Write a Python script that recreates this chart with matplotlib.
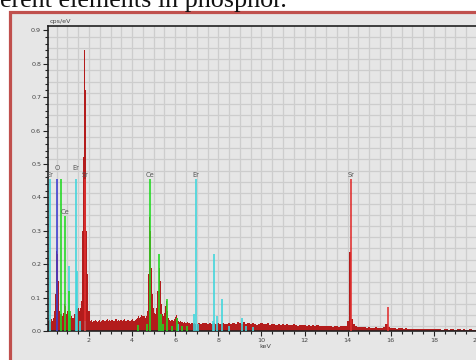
import numpy as np
import matplotlib.pyplot as plt
from matplotlib.patches import Rectangle
from matplotlib.ticker import MultipleLocator

# EDS spectrum, fine channels (0.05 keV) from 0.10 to 6.95 keV
low_kev = np.linspace(0.10, 6.95, 138)
low_cps = [
    0.030, 0.033, 0.028, 0.035, 0.030, 0.040, 0.060, 0.110, 0.240, 0.230,  # 0.10
    0.150, 0.060, 0.050, 0.045, 0.055, 0.080, 0.075, 0.050, 0.060, 0.045,  # 0.60
    0.055, 0.040, 0.045, 0.040, 0.038, 0.050, 0.070, 0.065, 0.070, 0.060,  # 1.10
    0.068, 0.090, 0.300, 0.520, 0.840, 0.720, 0.300, 0.170, 0.060, 0.030,  # 1.60
    0.032, 0.028, 0.031, 0.029, 0.032, 0.030, 0.027, 0.031, 0.033, 0.028,  # 2.10
    0.030, 0.034, 0.031, 0.029, 0.032, 0.036, 0.030, 0.033, 0.029, 0.032,  # 2.60
    0.034, 0.031, 0.029, 0.035, 0.031, 0.033, 0.030, 0.034, 0.032, 0.029,  # 3.10
    0.033, 0.035, 0.031, 0.030, 0.034, 0.032, 0.029, 0.033, 0.035, 0.031,  # 3.60
    0.030, 0.034, 0.036, 0.038, 0.045, 0.040, 0.042, 0.048, 0.044, 0.046,  # 4.10
    0.040, 0.045, 0.060, 0.170, 0.340, 0.300, 0.190, 0.110, 0.070, 0.055,  # 4.60
    0.050, 0.070, 0.120, 0.190, 0.150, 0.080, 0.050, 0.045, 0.055, 0.075,  # 5.10
    0.090, 0.060, 0.040, 0.032, 0.030, 0.033, 0.030, 0.035, 0.042, 0.048,  # 5.60
    0.038, 0.030, 0.027, 0.029, 0.026, 0.028, 0.025, 0.027, 0.024, 0.026,  # 6.10
    0.023, 0.025, 0.022, 0.024, 0.023, 0.021, 0.024, 0.022,                # 6.60
]

# coarse channels (0.1 keV) from 7.0 to 20.1 keV
high_kev = np.linspace(7.0, 20.1, 132)
high_cps = [
    0.022, 0.025, 0.021, 0.024, 0.023, 0.020, 0.024, 0.022, 0.025, 0.021,  # 7
    0.023, 0.020, 0.024, 0.022, 0.021, 0.025, 0.020, 0.023, 0.022, 0.026,  # 8
    0.024, 0.021, 0.026, 0.022, 0.025, 0.020, 0.023, 0.021, 0.019, 0.022,  # 9
    0.024, 0.021, 0.020, 0.023, 0.019, 0.022, 0.020, 0.018, 0.021, 0.019,  # 10
    0.020, 0.018, 0.021, 0.019, 0.017, 0.020, 0.018, 0.016, 0.019, 0.017,  # 11
    0.018, 0.016, 0.017, 0.015, 0.018, 0.016, 0.017, 0.015, 0.016, 0.014,  # 12
    0.015, 0.016, 0.014, 0.013, 0.015, 0.014, 0.013, 0.015, 0.014, 0.016,  # 13
    0.030, 0.237, 0.035, 0.020, 0.014, 0.012, 0.013, 0.011, 0.012, 0.010,  # 14
    0.011, 0.010, 0.009, 0.011, 0.010, 0.009, 0.010, 0.012, 0.020, 0.012,  # 15
    0.009, 0.008, 0.009, 0.007, 0.008, 0.008, 0.007, 0.008, 0.006, 0.007,  # 16
    0.006, 0.007, 0.006, 0.005, 0.006, 0.006, 0.005, 0.006, 0.005, 0.006,  # 17
    0.005, 0.006, 0.005, 0.005, 0.004, 0.005, 0.005, 0.004, 0.005, 0.005,  # 18
    0.004, 0.005, 0.005, 0.004, 0.005, 0.004, 0.004, 0.005, 0.004, 0.004,  # 19
    0.004, 0.004,                                                          # 20
]

# element marker lines
er_kev = [0.19, 1.07, 1.405, 1.45, 1.60, 1.81, 6.15, 6.88, 6.95, 7.06, 7.74, 7.81, 7.92, 8.18, 8.50, 9.09, 9.30, 9.60]
er_h = [0.455, 0.195, 0.455, 0.18, 0.03, 0.03, 0.02, 0.05, 0.455, 0.02, 0.03, 0.23, 0.045, 0.095, 0.015, 0.04, 0.015, 0.012]
ce_kev = [0.69, 0.883, 1.07, 1.12, 4.26, 4.69, 4.84, 5.26, 5.36, 5.43, 5.60, 5.85, 6.07, 6.30, 6.53]
ce_h = [0.455, 0.345, 0.12, 0.06, 0.018, 0.02, 0.455, 0.23, 0.05, 0.02, 0.095, 0.015, 0.038, 0.015, 0.015]
o_kev = [0.525]
o_h = [0.455]
sr_kev = [1.806, 14.165, 15.85]
sr_h = [0.455, 0.455, 0.073]

label_text = ['Er', 'O', 'Ce', 'Er', 'Sr', 'Ce', 'Er', 'Sr']
label_kev = [0.19, 0.525, 0.883, 1.405, 1.806, 4.84, 6.95, 14.165]
label_y = [0.468, 0.487, 0.357, 0.487, 0.468, 0.468, 0.468, 0.468]

W, H = 476, 360
fig = plt.figure(figsize=(W / 100, H / 100), dpi=100)
fig.patch.set_facecolor('white')

# framed panel behind the chart
fig.patches.append(Rectangle((9.5 / W, -0.2), 1.2, 1 - 11.5 / H + 0.2, transform=fig.transFigure,
                             facecolor='#e6e6e6', edgecolor='#c0504d', linewidth=2.3, zorder=-10))
fig.text(0.5 / W, 1 - 6.5 / H, 'erent elements in phosphor.', family='Liberation Serif',
         fontsize=18.8, ha='left', va='baseline', color='#111111')

ax = fig.add_axes([48.3 / W, 1 - 331 / H, (482 - 48.3) / W, (331 - 26) / H])
ax.set_facecolor('#e6e6e6')
ax.set_xlim(0.111, 20.23)
ax.set_ylim(0, 0.913)

# grid
ax.xaxis.set_minor_locator(MultipleLocator(0.5))
ax.grid(axis='x', which='both', color='#cdcdcd', linewidth=0.9, zorder=0)
for yy in np.arange(0.913 - 0.0333, 0.005, -0.0333):
    ax.axhline(yy, color='#cdcdcd', linewidth=0.9, zorder=0)
ax.set_axisbelow(True)

# spectrum
ax.fill_between(low_kev, low_cps, step='mid', color='#b31c1c', linewidth=0, zorder=2)
ax.fill_between(high_kev, high_cps, step='mid', color='#b31c1c', linewidth=0, zorder=2)

# markers
ax.vlines(er_kev, 0, er_h, colors='#3fd6dc', linewidth=1.3, alpha=0.9, zorder=3)
ax.vlines(ce_kev, 0, ce_h, colors='#22d822', linewidth=1.3, alpha=0.9, zorder=3)
ax.vlines(o_kev, 0, o_h, colors='#3c3cd0', linewidth=1.3, alpha=0.9, zorder=3)
ax.vlines(sr_kev, 0, sr_h, colors='#e03030', linewidth=1.3, alpha=0.9, zorder=3)

for t, xk, yk in zip(label_text, label_kev, label_y):
    ax.text(xk, yk, t, fontsize=4.8, color='#555555', ha='center', va='center', clip_on=True, zorder=4)

# axes styling
ax.set_xticks(np.arange(2, 21, 2))
ax.set_xticklabels([str(v) for v in range(2, 21, 2)])
ax.set_yticks(np.arange(0, 0.91, 0.1))
ax.set_yticklabels(['%.1f' % v for v in np.arange(0, 0.91, 0.1)])
ax.yaxis.set_minor_locator(MultipleLocator(0.02))
ax.tick_params(which='major', direction='out', length=3.6, width=0.8, color='#222222',
               labelsize=4.6, labelcolor='#444444', pad=1.5)
ax.tick_params(which='minor', direction='out', length=2.4, width=0.8, color='#222222')
for side in ['left', 'bottom', 'top']:
    ax.spines[side].set_color('#222222')
    ax.spines[side].set_linewidth(1.2)
ax.spines['right'].set_visible(False)

fig.text(50 / W, 1 - 22 / H, 'cps/eV', fontsize=4.6, color='#444444', ha='left', va='center')
ax.set_xlabel('keV', fontsize=4.6, color='#444444', labelpad=1)

fig.savefig('out.png', dpi=100)
